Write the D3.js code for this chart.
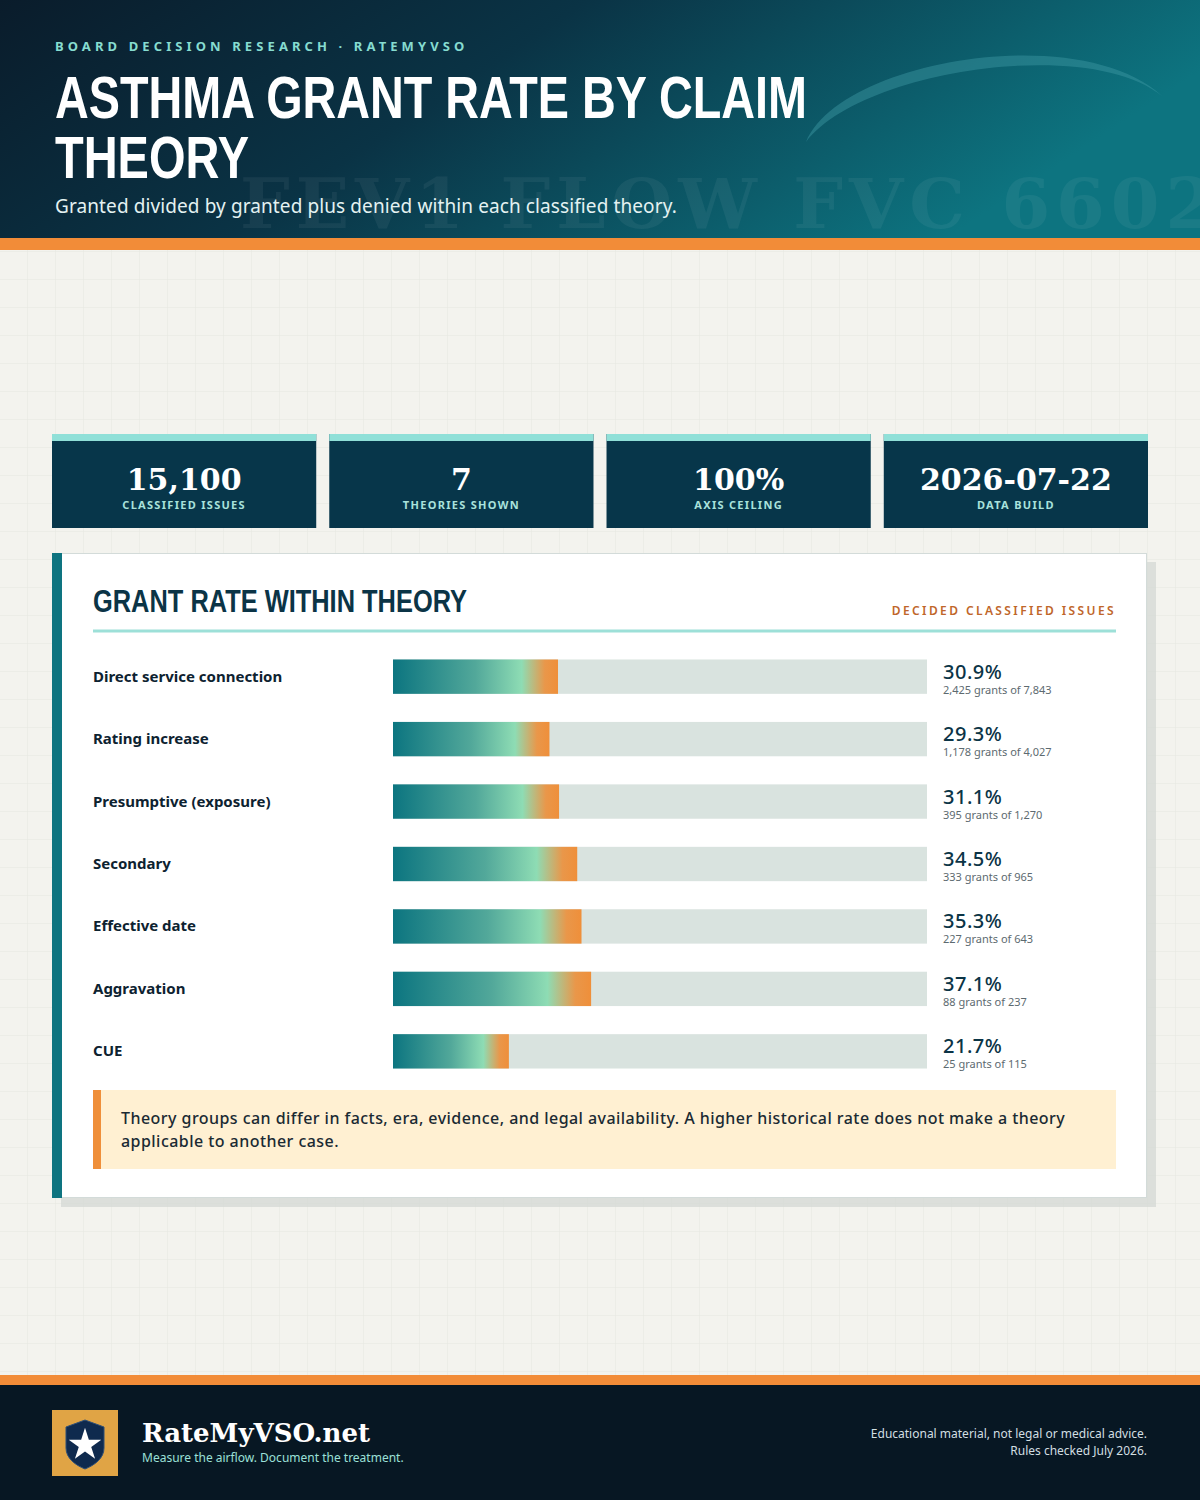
<!DOCTYPE html>
<html>
<head>
<meta charset="utf-8">
<script src="https://cdn.jsdelivr.net/npm/d3@7"></script>
<style>
  body { margin: 0; background: #f3f3ee; }
  svg { display: block; }
</style>
</head>
<body>
<div id="chart"></div>
<script>
// data
var theories = ["Direct service connection", "Rating increase", "Presumptive (exposure)", "Secondary", "Effective date", "Aggravation", "CUE"]
var rates = [30.9, 29.3, 31.1, 34.5, 35.3, 37.1, 21.7]
var grants = [2425, 1178, 395, 333, 227, 88, 25]
var totals = [7843, 4027, 1270, 965, 643, 237, 115]
var statValues = ["15,100", "7", "100%", "2026-07-22"]
var statLabels = ["CLASSIFIED ISSUES", "THEORIES SHOWN", "AXIS CEILING", "DATA BUILD"]

var W = 1200, H = 1500
var sans = "'Noto Sans', 'DejaVu Sans', sans-serif"
var cond = "'Liberation Sans', Arial, sans-serif"
var serif = "Georgia, 'DejaVu Serif', serif"
var fmt = d3.format(",")

var svg = d3.select("#chart").append("svg")
    .attr("width", W)
    .attr("height", H)

var defs = svg.append("defs")

var hdrGrad = defs.append("linearGradient").attr("id", "hdr")
    .attr("x1", "0%").attr("y1", "0%").attr("x2", "100%").attr("y2", "30%")
hdrGrad.append("stop").attr("offset", "0%").attr("stop-color", "#0a1c2b")
hdrGrad.append("stop").attr("offset", "45%").attr("stop-color", "#0a3345")
hdrGrad.append("stop").attr("offset", "100%").attr("stop-color", "#0d7480")

var barGrad = defs.append("linearGradient").attr("id", "bar")
barGrad.append("stop").attr("offset", "0%").attr("stop-color", "#0c7580")
barGrad.append("stop").attr("offset", "50%").attr("stop-color", "#52a89a")
barGrad.append("stop").attr("offset", "78%").attr("stop-color", "#8edcb4")
barGrad.append("stop").attr("offset", "92%").attr("stop-color", "#e9974a")
barGrad.append("stop").attr("offset", "100%").attr("stop-color", "#ef8f3a")

var grid = defs.append("pattern").attr("id", "grid")
    .attr("width", 28).attr("height", 28).attr("patternUnits", "userSpaceOnUse")
grid.append("rect").attr("width", 28).attr("height", 28).attr("fill", "#f3f3ee")
grid.append("path").attr("d", "M28 0V28M0 28H28")
    .attr("stroke", "#e6e8e1").attr("stroke-width", 1).attr("fill", "none")

// page background
svg.append("rect").attr("width", W).attr("height", H).attr("fill", "url(#grid)")

// header
var header = svg.append("g")
header.append("rect").attr("width", W).attr("height", 238).attr("fill", "url(#hdr)")
header.append("path")
    .attr("d", "M806 142 C 840 60, 1080 20, 1162 96 C 1090 36, 860 70, 806 142 Z")
    .attr("fill", "#3e9aa3").attr("opacity", 0.45)
header.append("text")
    .attr("x", 240).attr("y", 228)
    .attr("font-family", serif).attr("font-weight", "bold").attr("font-size", 70)
    .attr("letter-spacing", 6)
    .attr("fill", "#ffffff").attr("opacity", 0.05)
    .text("FEV1 FLOW FVC 6602")
header.append("text")
    .attr("x", 55).attr("y", 51)
    .attr("font-family", sans).attr("font-weight", "bold").attr("font-size", 13)
    .attr("letter-spacing", 4.1).attr("fill", "#86dcd0")
    .text("BOARD DECISION RESEARCH · RATEMYVSO")
var titleLines = ["ASTHMA GRANT RATE BY CLAIM", "THEORY"]
var titleWidths = [752, 194]
header.selectAll("text.title").data(titleLines)
    .enter().append("text").attr("class", "title")
    .attr("x", 55).attr("y", function(d, i) { return 118 + i * 60 })
    .attr("font-family", cond).attr("font-weight", "bold").attr("font-size", 60)
    .attr("textLength", function(d, i) { return titleWidths[i] })
    .attr("lengthAdjust", "spacingAndGlyphs")
    .attr("fill", "#ffffff")
    .text(function(d) { return d })
header.append("text")
    .attr("x", 55).attr("y", 213)
    .attr("font-family", sans).attr("font-size", 19).attr("fill", "#e4f2f2")
    .attr("letter-spacing", 0.1)
    .text("Granted divided by granted plus denied within each classified theory.")
svg.append("rect").attr("y", 238).attr("width", W).attr("height", 12).attr("fill", "#f28c38")

// stat cards
var cardX = d3.scaleBand().domain(d3.range(statValues.length)).range([52, 1148]).paddingInner(0.047)
var cw = cardX.bandwidth()
var cards = svg.selectAll("g.card").data(statValues).enter().append("g").attr("class", "card")
    .attr("transform", function(d, i) { return "translate(" + cardX(i) + ",434)" })
cards.append("rect").attr("width", cw).attr("height", 94).attr("fill", "#07364a")
cards.append("rect").attr("width", cw).attr("height", 7).attr("fill", "#90e0d8")
cards.append("text")
    .attr("x", cw / 2).attr("y", 56)
    .attr("text-anchor", "middle")
    .attr("font-family", serif).attr("font-weight", "bold").attr("font-size", 30)
    .attr("fill", "#ffffff")
    .text(function(d) { return d })
cards.append("text")
    .attr("x", cw / 2).attr("y", 75)
    .attr("text-anchor", "middle")
    .attr("font-family", sans).attr("font-weight", "bold").attr("font-size", 11)
    .attr("letter-spacing", 1.3).attr("fill", "#a9e2dc")
    .text(function(d, i) { return statLabels[i] })

// chart panel
var panel = svg.append("g")
panel.append("rect").attr("x", 61).attr("y", 562).attr("width", 1095).attr("height", 645)
    .attr("fill", "#d6dad6").attr("opacity", 0.8)
panel.append("rect").attr("x", 52.5).attr("y", 553.5).attr("width", 1094).attr("height", 644)
    .attr("fill", "#ffffff").attr("stroke", "#d3dbd9")
panel.append("rect").attr("x", 52).attr("y", 553).attr("width", 10).attr("height", 645)
    .attr("fill", "#0e7480")
panel.append("text")
    .attr("x", 93).attr("y", 612)
    .attr("font-family", cond).attr("font-weight", "bold").attr("font-size", 31)
    .attr("textLength", 374).attr("lengthAdjust", "spacingAndGlyphs")
    .attr("fill", "#0b3446")
    .text("GRANT RATE WITHIN THEORY")
panel.append("text")
    .attr("x", 1116).attr("y", 615).attr("text-anchor", "end")
    .attr("font-family", sans).attr("font-size", 12).attr("font-weight", 600)
    .attr("letter-spacing", 2.4).attr("fill", "#c0662a")
    .text("DECIDED CLASSIFIED ISSUES")
panel.append("rect").attr("x", 93).attr("y", 629.5).attr("width", 1023).attr("height", 3)
    .attr("fill", "#9de0d8")

var x = d3.scaleLinear().domain([0, 100]).range([393, 927])
var y = d3.scaleBand().domain(theories).range([647, 1081]).paddingInner(0.45).paddingOuter(0.2)

var rows = panel.selectAll("g.row").data(theories).enter().append("g").attr("class", "row")
    .attr("transform", function(d) { return "translate(0," + y(d) + ")" })
var bh = y.bandwidth()
rows.append("rect").attr("x", x(0)).attr("width", x(100) - x(0)).attr("height", bh)
    .attr("fill", "#d9e3df")
rows.append("rect").attr("x", x(0))
    .attr("width", function(d, i) { return x(rates[i]) - x(0) })
    .attr("height", bh).attr("fill", "url(#bar)")
rows.append("text")
    .attr("x", 93).attr("y", bh / 2 + 5)
    .attr("font-family", sans).attr("font-weight", "bold").attr("font-size", 15)
    .attr("fill", "#0d2230")
    .text(function(d) { return d })
rows.append("text")
    .attr("x", 943).attr("y", bh / 2 + 2)
    .attr("font-family", sans).attr("font-weight", 500).attr("font-size", 20)
    .attr("letter-spacing", 0.5)
    .attr("fill", "#0b3446")
    .text(function(d, i) { return rates[i].toFixed(1) + "%" })
rows.append("text")
    .attr("x", 943).attr("y", bh / 2 + 17)
    .attr("font-family", sans).attr("font-size", 11)
    .attr("fill", "#5d6a70")
    .text(function(d, i) { return fmt(grants[i]) + " grants of " + fmt(totals[i]) })

// note
panel.append("rect").attr("x", 93).attr("y", 1090).attr("width", 1023).attr("height", 79)
    .attr("fill", "#fff0d2")
panel.append("rect").attr("x", 93).attr("y", 1090).attr("width", 8).attr("height", 79)
    .attr("fill", "#ef8f3a")
panel.selectAll("text.note").data([
    "Theory groups can differ in facts, era, evidence, and legal availability. A higher historical rate does not make a theory",
    "applicable to another case."
]).enter().append("text").attr("class", "note")
    .attr("x", 121).attr("y", function(d, i) { return 1124 + i * 23 })
    .attr("font-family", sans).attr("font-size", 16).attr("font-weight", 500)
    .attr("letter-spacing", 0.45)
    .attr("fill", "#1a2a33")
    .text(function(d) { return d })

// footer
svg.append("rect").attr("y", 1375).attr("width", W).attr("height", 10).attr("fill", "#f28c38")
svg.append("rect").attr("y", 1385).attr("width", W).attr("height", 115).attr("fill", "#071723")
var logo = svg.append("g").attr("transform", "translate(52,1410)")
logo.append("rect").attr("width", 66).attr("height", 66).attr("fill", "#e0a445")
logo.append("path")
    .attr("d", "M33 10 L52 17 V38 C52 48 43 55 33 59 C23 55 14 48 14 38 V17 Z")
    .attr("fill", "#0f2a4e").attr("stroke", "#2d4f78").attr("stroke-width", 1)
logo.append("path")
    .attr("d", d3.symbol().type(d3.symbolStar).size(330)())
    .attr("transform", "translate(33,35)")
    .attr("fill", "#ffffff")
svg.append("text")
    .attr("x", 142).attr("y", 1442)
    .attr("font-family", serif).attr("font-weight", "bold").attr("font-size", 26)
    .attr("fill", "#ffffff")
    .text("RateMyVSO.net")
svg.append("text")
    .attr("x", 142).attr("y", 1462)
    .attr("font-family", sans).attr("font-size", 12)
    .attr("fill", "#9be0d8")
    .text("Measure the airflow. Document the treatment.")
svg.selectAll("text.foot").data(["Educational material, not legal or medical advice.", "Rules checked July 2026."])
    .enter().append("text").attr("class", "foot")
    .attr("x", 1147).attr("y", function(d, i) { return 1438 + i * 17 })
    .attr("text-anchor", "end")
    .attr("font-family", sans).attr("font-size", 12)
    .attr("fill", "#d2dfe2")
    .text(function(d) { return d })
</script>
</body>
</html>
